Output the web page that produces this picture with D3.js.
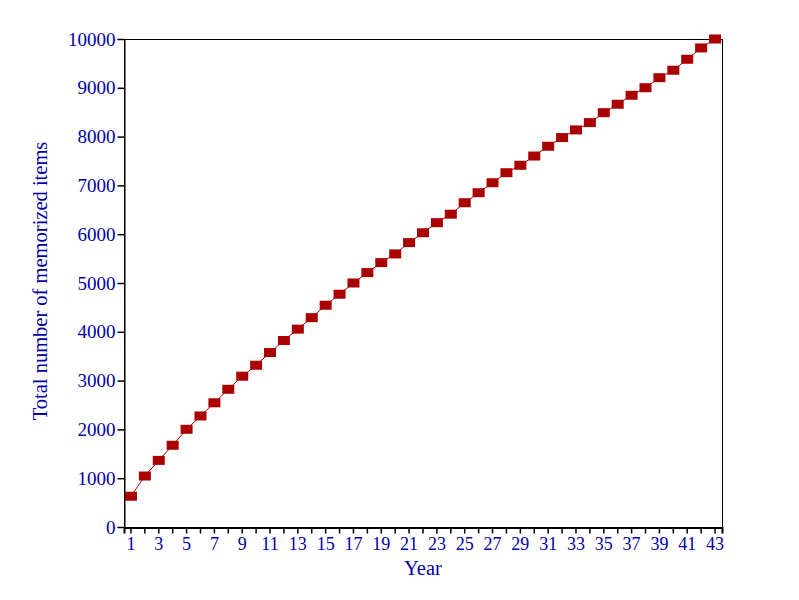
<!DOCTYPE html>
<html><head><meta charset="utf-8">
<script src="https://cdn.jsdelivr.net/npm/d3@7"></script>
<style>body{margin:0;background:#fff}</style>
</head><body>
<script>
const years = d3.range(1, 44);
const items = [630,1045,1365,1675,2002,2275,2545,2822,3090,3315,3575,3822,4055,4290,4545,4770,5000,5213,5418,5596,5828,6030,6236,6410,6645,6850,7055,7260,7412,7602,7802,7980,8137,8287,8490,8663,8847,9002,9207,9360,9585,9817,10000];
const yTicks = d3.range(0, 10001, 1000);
const xLabel = "Year";
const yLabel = "Total number of memorized items";

const W = 799, H = 600;
const m = {left:124, right:77, top:39, bottom:73};
const textColor = "#0000a8", markColor = "#aa0000";

const svg = d3.select("body").append("svg").attr("width", W).attr("height", H)
  .style("font-family", "'Liberation Serif', 'DejaVu Serif', serif");

const x = d3.scaleBand().domain(years).range([m.left, W - m.right]).padding(0);
const y = d3.scaleLinear().domain([0, 10000]).range([H - m.bottom, m.top]);
const cx = d => x(d) + x.bandwidth() / 2;

// frame
svg.append("rect").attr("x", m.left + 0.5).attr("y", m.top + 0.5)
  .attr("width", W - m.right - m.left).attr("height", H - m.bottom - m.top)
  .attr("fill", "none").attr("stroke", "#000").attr("stroke-width", 1);

// x axis
const gx = svg.append("g").attr("transform", `translate(0,${H - m.bottom + 0.5})`)
  .call(d3.axisBottom(x).tickSizeOuter(0).tickSize(6).tickPadding(4)
    .tickFormat(d => d % 2 === 1 ? d : ""));
gx.select(".domain").attr("stroke", "#000").attr("stroke-width", 2);
gx.selectAll(".tick line").attr("stroke", "#000").attr("stroke-width", 1.5);
gx.selectAll("text").attr("fill", textColor).style("font-size", "18px")
  .style("font-family", "'Liberation Serif', serif");

// y axis
const gy = svg.append("g").attr("transform", `translate(${m.left + 0.5},0)`)
  .call(d3.axisLeft(y).tickValues(yTicks).tickSizeOuter(0).tickSize(7).tickPadding(2)
    .tickFormat(d3.format("d")));
gy.select(".domain").attr("stroke", "#000").attr("stroke-width", 1);
gy.selectAll(".tick line").attr("stroke", "#000").attr("stroke-width", 1.5);
gy.selectAll("text").attr("fill", textColor).style("font-size", "19px")
  .style("font-family", "'Liberation Serif', serif");

// line
svg.append("path").datum(years)
  .attr("fill", "none").attr("stroke", markColor).attr("stroke-width", 1)
  .attr("d", d3.line().x(d => cx(d)).y((d, i) => y(items[i])));

// markers
svg.selectAll("rect.mk").data(years).join("rect").attr("class", "mk")
  .attr("x", d => cx(d) - 6).attr("y", (d, i) => y(items[i]) - 4.5)
  .attr("width", 12).attr("height", 9).attr("fill", markColor);

// titles
svg.append("text").attr("x", 423).attr("y", 575)
  .attr("text-anchor", "middle").attr("fill", textColor).style("font-size", "20.5px")
  .text(xLabel);
svg.append("text").attr("transform", `translate(47,281) rotate(-90)`)
  .attr("text-anchor", "middle").attr("fill", textColor).style("font-size", "20.5px")
  .text(yLabel);
</script>
</body></html>
